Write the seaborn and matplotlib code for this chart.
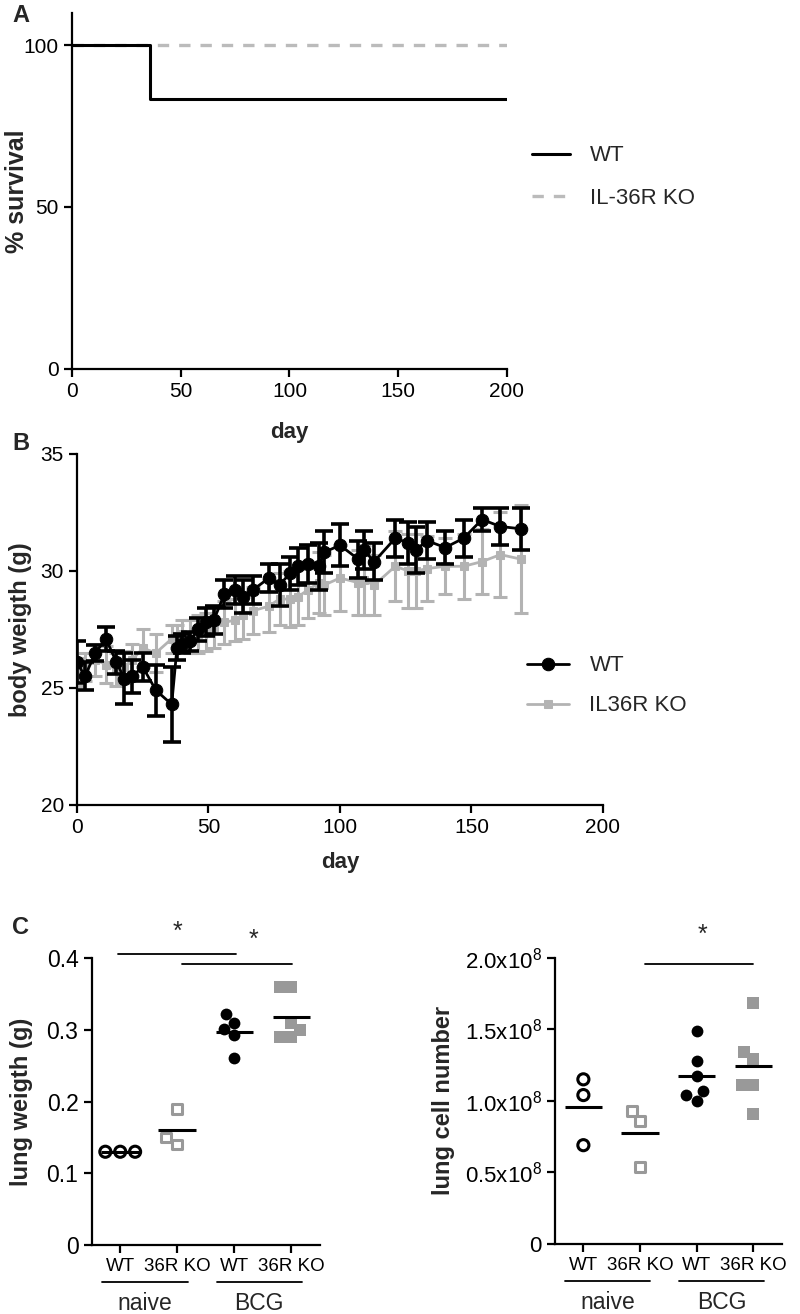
import numpy as np
import pandas as pd
import matplotlib
matplotlib.use('Agg')
import matplotlib.pyplot as plt
import seaborn as sns

# Panel A - survie
surv_days_wt = [0, 36, 200]
surv_pct_wt = [100, 83.3, 83.3]
surv_days_ko = [0, 200]
surv_pct_ko = [100, 100]

# Panel B - poids corporel (moyenne +/- erreur)
days = [0, 3, 7, 11, 15, 18, 21, 25, 30, 36, 38, 40, 43, 46, 49, 52, 56, 60, 63, 67,
        73, 77, 81, 84, 88, 92, 94, 100, 107, 109, 113, 121, 126, 129, 133, 140, 147,
        154, 161, 169]
weight_wt = [26.1, 25.5, 26.5, 27.1, 26.1, 25.4, 25.5, 25.9, 24.9, 24.3, 26.7, 26.9,
             27.0, 27.5, 27.8, 27.9, 29.0, 29.2, 28.9, 29.2, 29.7, 29.4, 29.9, 30.2,
             30.3, 30.2, 30.8, 31.1, 30.5, 30.9, 30.4, 31.4, 31.2, 30.9, 31.3, 31.0,
             31.4, 32.2, 31.9, 31.8]
err_wt = [0.9, 0.6, 0.35, 0.5, 0.5, 1.1, 0.7, 0.6, 1.1, 1.6, 0.5, 0.4, 0.4, 0.5, 0.6,
          0.6, 0.6, 0.6, 0.7, 0.6, 0.6, 0.9, 0.7, 0.8, 0.8, 1.0, 0.9, 0.9, 0.8, 0.8,
          0.8, 0.8, 0.9, 1.0, 0.8, 0.7, 0.8, 0.5, 0.8, 0.9]
weight_ko = [25.7, 25.9, 26.2, 26.0, 25.8, 25.9, 26.2, 26.7, 26.5, 27.1, 27.2, 27.3,
             27.2, 27.3, 27.4, 27.6, 27.8, 27.9, 28.1, 28.3, 28.5, 28.8, 28.8, 28.9,
             29.2, 29.5, 29.4, 29.7, 29.5, 29.6, 29.4, 30.2, 30.0, 30.0, 30.1, 30.2,
             30.2, 30.4, 30.7, 30.5]
err_ko = [0.6, 0.6, 0.7, 0.8, 0.7, 0.7, 0.7, 0.8, 0.8, 0.6, 0.5, 0.6, 0.7, 0.8, 0.8,
          0.9, 0.9, 0.9, 1.0, 1.0, 1.1, 1.1, 1.2, 1.2, 1.2, 1.3, 1.3, 1.4, 1.4, 1.5,
          1.3, 1.5, 1.6, 1.6, 1.4, 1.2, 1.4, 1.4, 1.8, 2.3]

# Panel C - groupes
groups = ['naive WT', 'naive KO', 'BCG WT', 'BCG KO']
group_ticks = ['WT', '36R KO', 'WT', '36R KO']
lw_naive_wt = [0.13, 0.13, 0.13]
lw_naive_ko = [0.19, 0.14, 0.15]
lw_bcg_wt = [0.322, 0.310, 0.301, 0.293, 0.260]
lw_bcg_ko = [0.36, 0.36, 0.31, 0.30, 0.29, 0.29]
cells_naive_wt = [1.15e8, 1.04e8, 0.69e8]
cells_naive_ko = [0.93e8, 0.86e8, 0.54e8]
cells_bcg_wt = [1.49e8, 1.28e8, 1.17e8, 1.07e8, 1.04e8, 1.00e8]
cells_bcg_ko = [1.68e8, 1.34e8, 1.29e8, 1.11e8, 1.11e8, 0.91e8]

sns.set_theme(style='ticks')
plt.rcParams['font.family'] = ['Liberation Sans', 'DejaVu Sans']
plt.rcParams['mathtext.fontset'] = 'custom'
plt.rcParams['mathtext.rm'] = 'Liberation Sans'
plt.rcParams['axes.linewidth'] = 1.6
plt.rcParams['xtick.major.width'] = 1.6
plt.rcParams['ytick.major.width'] = 1.6
plt.rcParams['xtick.major.size'] = 6
plt.rcParams['ytick.major.size'] = 6
plt.rcParams['xtick.color'] = 'black'
plt.rcParams['ytick.color'] = 'black'
plt.rcParams['axes.edgecolor'] = 'black'

GREY_A = '#BBBBBB'
GREY_B = '#B3B3B3'
GREY_C = '#999999'

fig = plt.figure(figsize=(8, 13.14), dpi=100)

# ---------- A ----------
axA = fig.add_axes([0.09, 0.7192, 0.5437, 0.2712])
sns.lineplot(x=surv_days_ko, y=surv_pct_ko, drawstyle='steps-post', color=GREY_A,
             lw=2.4, linestyle=(0, (3.4, 3.0)), label='IL-36R KO', ax=axA)
sns.lineplot(x=surv_days_wt, y=surv_pct_wt, drawstyle='steps-post', color='black',
             lw=2.2, label='WT', ax=axA)
axA.set_xlim(0, 200)
axA.set_ylim(0, 110)
axA.set_xticks([0, 50, 100, 150, 200])
axA.set_yticks([0, 50, 100])
axA.tick_params(labelsize=15)
axA.set_xlabel('day', fontsize=16, fontweight='bold')
axA.set_ylabel('% survival', fontsize=18, fontweight='bold')
axA.xaxis.set_label_coords(0.5, -0.15)
axA.yaxis.set_label_coords(-0.1, 0.5)
h, l = axA.get_legend_handles_labels()
axA.legend(h[::-1], l[::-1], loc='center left', bbox_to_anchor=(0.665, 0.8653),
           bbox_transform=fig.transFigure, frameon=False, fontsize=16,
           handlelength=1.7, handletextpad=0.9, labelspacing=0.95,
           borderpad=0, borderaxespad=0)
sns.despine(ax=axA)

# ---------- B ----------
axB = fig.add_axes([0.09625, 0.3874, 0.6575, 0.2671])
axB.errorbar(days, weight_ko, yerr=err_ko, fmt='none', ecolor=GREY_B, elinewidth=2.2,
             capsize=5, capthick=2.2, zorder=1)
sns.lineplot(x=days, y=weight_ko, color=GREY_B, lw=2, marker='s', markersize=6,
             markeredgecolor=GREY_B, errorbar=None, label='IL36R KO', ax=axB, zorder=2)
axB.errorbar(days, weight_wt, yerr=err_wt, fmt='none', ecolor='black', elinewidth=2.6,
             capsize=6.5, capthick=2.6, zorder=3)
sns.lineplot(x=days, y=weight_wt, color='black', lw=2, marker='o', markersize=9,
             markeredgecolor='black', errorbar=None, label='WT', ax=axB, zorder=4)
axB.set_xlim(0, 200)
axB.set_ylim(20, 35)
axB.set_xticks([0, 50, 100, 150, 200])
axB.set_yticks([20, 25, 30, 35])
axB.tick_params(labelsize=15)
axB.set_xlabel('day', fontsize=16, fontweight='bold')
axB.set_ylabel('body weigth (g)', fontsize=17, fontweight='bold')
axB.xaxis.set_label_coords(0.5, -0.135)
axB.yaxis.set_label_coords(-0.085, 0.5)
h, l = axB.get_legend_handles_labels()
axB.legend(h[::-1], l[::-1], loc='center left', bbox_to_anchor=(0.659, 0.478),
           bbox_transform=fig.transFigure, frameon=False, fontsize=16,
           handlelength=1.9, handletextpad=0.9, labelspacing=0.85,
           borderpad=0, borderaxespad=0)
sns.despine(ax=axB)

# ---------- C ----------
markers = ['o', 's', 'o', 's']
colors = ['black', GREY_C, 'black', GREY_C]
filled = [False, False, True, True]
sizes = [8, 7, 8.5, 8]


def panel_c(ax, values):
    for i, (g, vals) in enumerate(zip(groups, values)):
        sub = pd.DataFrame({'group': [g] * len(vals), 'val': vals})
        n0 = len(ax.collections)
        if filled[i]:
            sns.swarmplot(data=sub, x='group', y='val', order=groups, marker=markers[i],
                          color=colors[i], size=sizes[i], ax=ax, zorder=2)
        else:
            sns.swarmplot(data=sub, x='group', y='val', order=groups, marker=markers[i],
                          color=colors[i], facecolor='none', edgecolor=colors[i],
                          linewidth=2.2, size=sizes[i], ax=ax, zorder=2)
            for coll in ax.collections[n0:]:
                coll.set_facecolor('none')
                coll.set_edgecolor(colors[i])
                coll.set_linewidth(2.2)
        ax.hlines(np.mean(vals), i - 0.33, i + 0.33, color='black', lw=2.2, zorder=3)
    ax.set_xlim(-0.5, 3.5)
    ax.set_xticks(range(len(groups)))
    ax.set_xticklabels(group_ticks, fontsize=13.5)
    ax.set_xlabel('')
    tr = ax.get_xaxis_transform()
    for x0, x1, name in [(-0.32, 1.18, 'naive'), (1.69, 3.18, 'BCG')]:
        ax.plot([x0, x1], [-0.13, -0.13], color='black', lw=1.3, transform=tr, clip_on=False)
        ax.text((x0 + x1) / 2, -0.205, name, ha='center', va='center', fontsize=16.5,
                transform=tr)
    sns.despine(ax=ax)


axC1 = fig.add_axes([0.1146, 0.0525, 0.2854, 0.2184])
panel_c(axC1, [lw_naive_wt, lw_naive_ko, lw_bcg_wt, lw_bcg_ko])
axC1.set_ylim(0, 0.4)
axC1.set_yticks([0, 0.1, 0.2, 0.3, 0.4])
axC1.set_yticklabels(['0', '0.1', '0.2', '0.3', '0.4'], fontsize=16.5)
axC1.set_ylabel('lung weigth (g)', fontsize=17, fontweight='bold')
axC1.yaxis.set_label_coords(-0.255, 0.5)
axC1.plot([-0.04, 2.03], [0.4056, 0.4056], color='black', lw=1.3, clip_on=False)
axC1.plot([1.08, 3.01], [0.3916, 0.3916], color='black', lw=1.3, clip_on=False)
axC1.text(1.0, 0.436, '*', ha='center', va='center', fontsize=18)
axC1.text(2.33, 0.425, '*', ha='center', va='center', fontsize=18)

axC2 = fig.add_axes([0.6938, 0.0533, 0.2834, 0.2179])
panel_c(axC2, [cells_naive_wt, cells_naive_ko, cells_bcg_wt, cells_bcg_ko])
axC2.set_ylim(0, 2e8)
axC2.set_yticks([0, 0.5e8, 1e8, 1.5e8, 2e8])
axC2.set_yticklabels(['0', r'0.5x10$^8$', r'1.0x10$^8$', r'1.5x10$^8$', r'2.0x10$^8$'],
                     fontsize=16)
axC2.set_ylabel('lung cell number', fontsize=17, fontweight='bold')
axC2.yaxis.set_label_coords(-0.44, 0.5)
axC2.plot([1.09, 3.0], [1.958e8, 1.958e8], color='black', lw=1.3, clip_on=False)
axC2.text(2.11, 2.16e8, '*', ha='center', va='center', fontsize=18)

for lab, y in [('A', 15), ('B', 443), ('C', 928)]:
    fig.text(12 / 800, 1 - y / 1314, lab, fontsize=17, fontweight='bold', va='center')

fig.savefig('out.png', dpi=100)
